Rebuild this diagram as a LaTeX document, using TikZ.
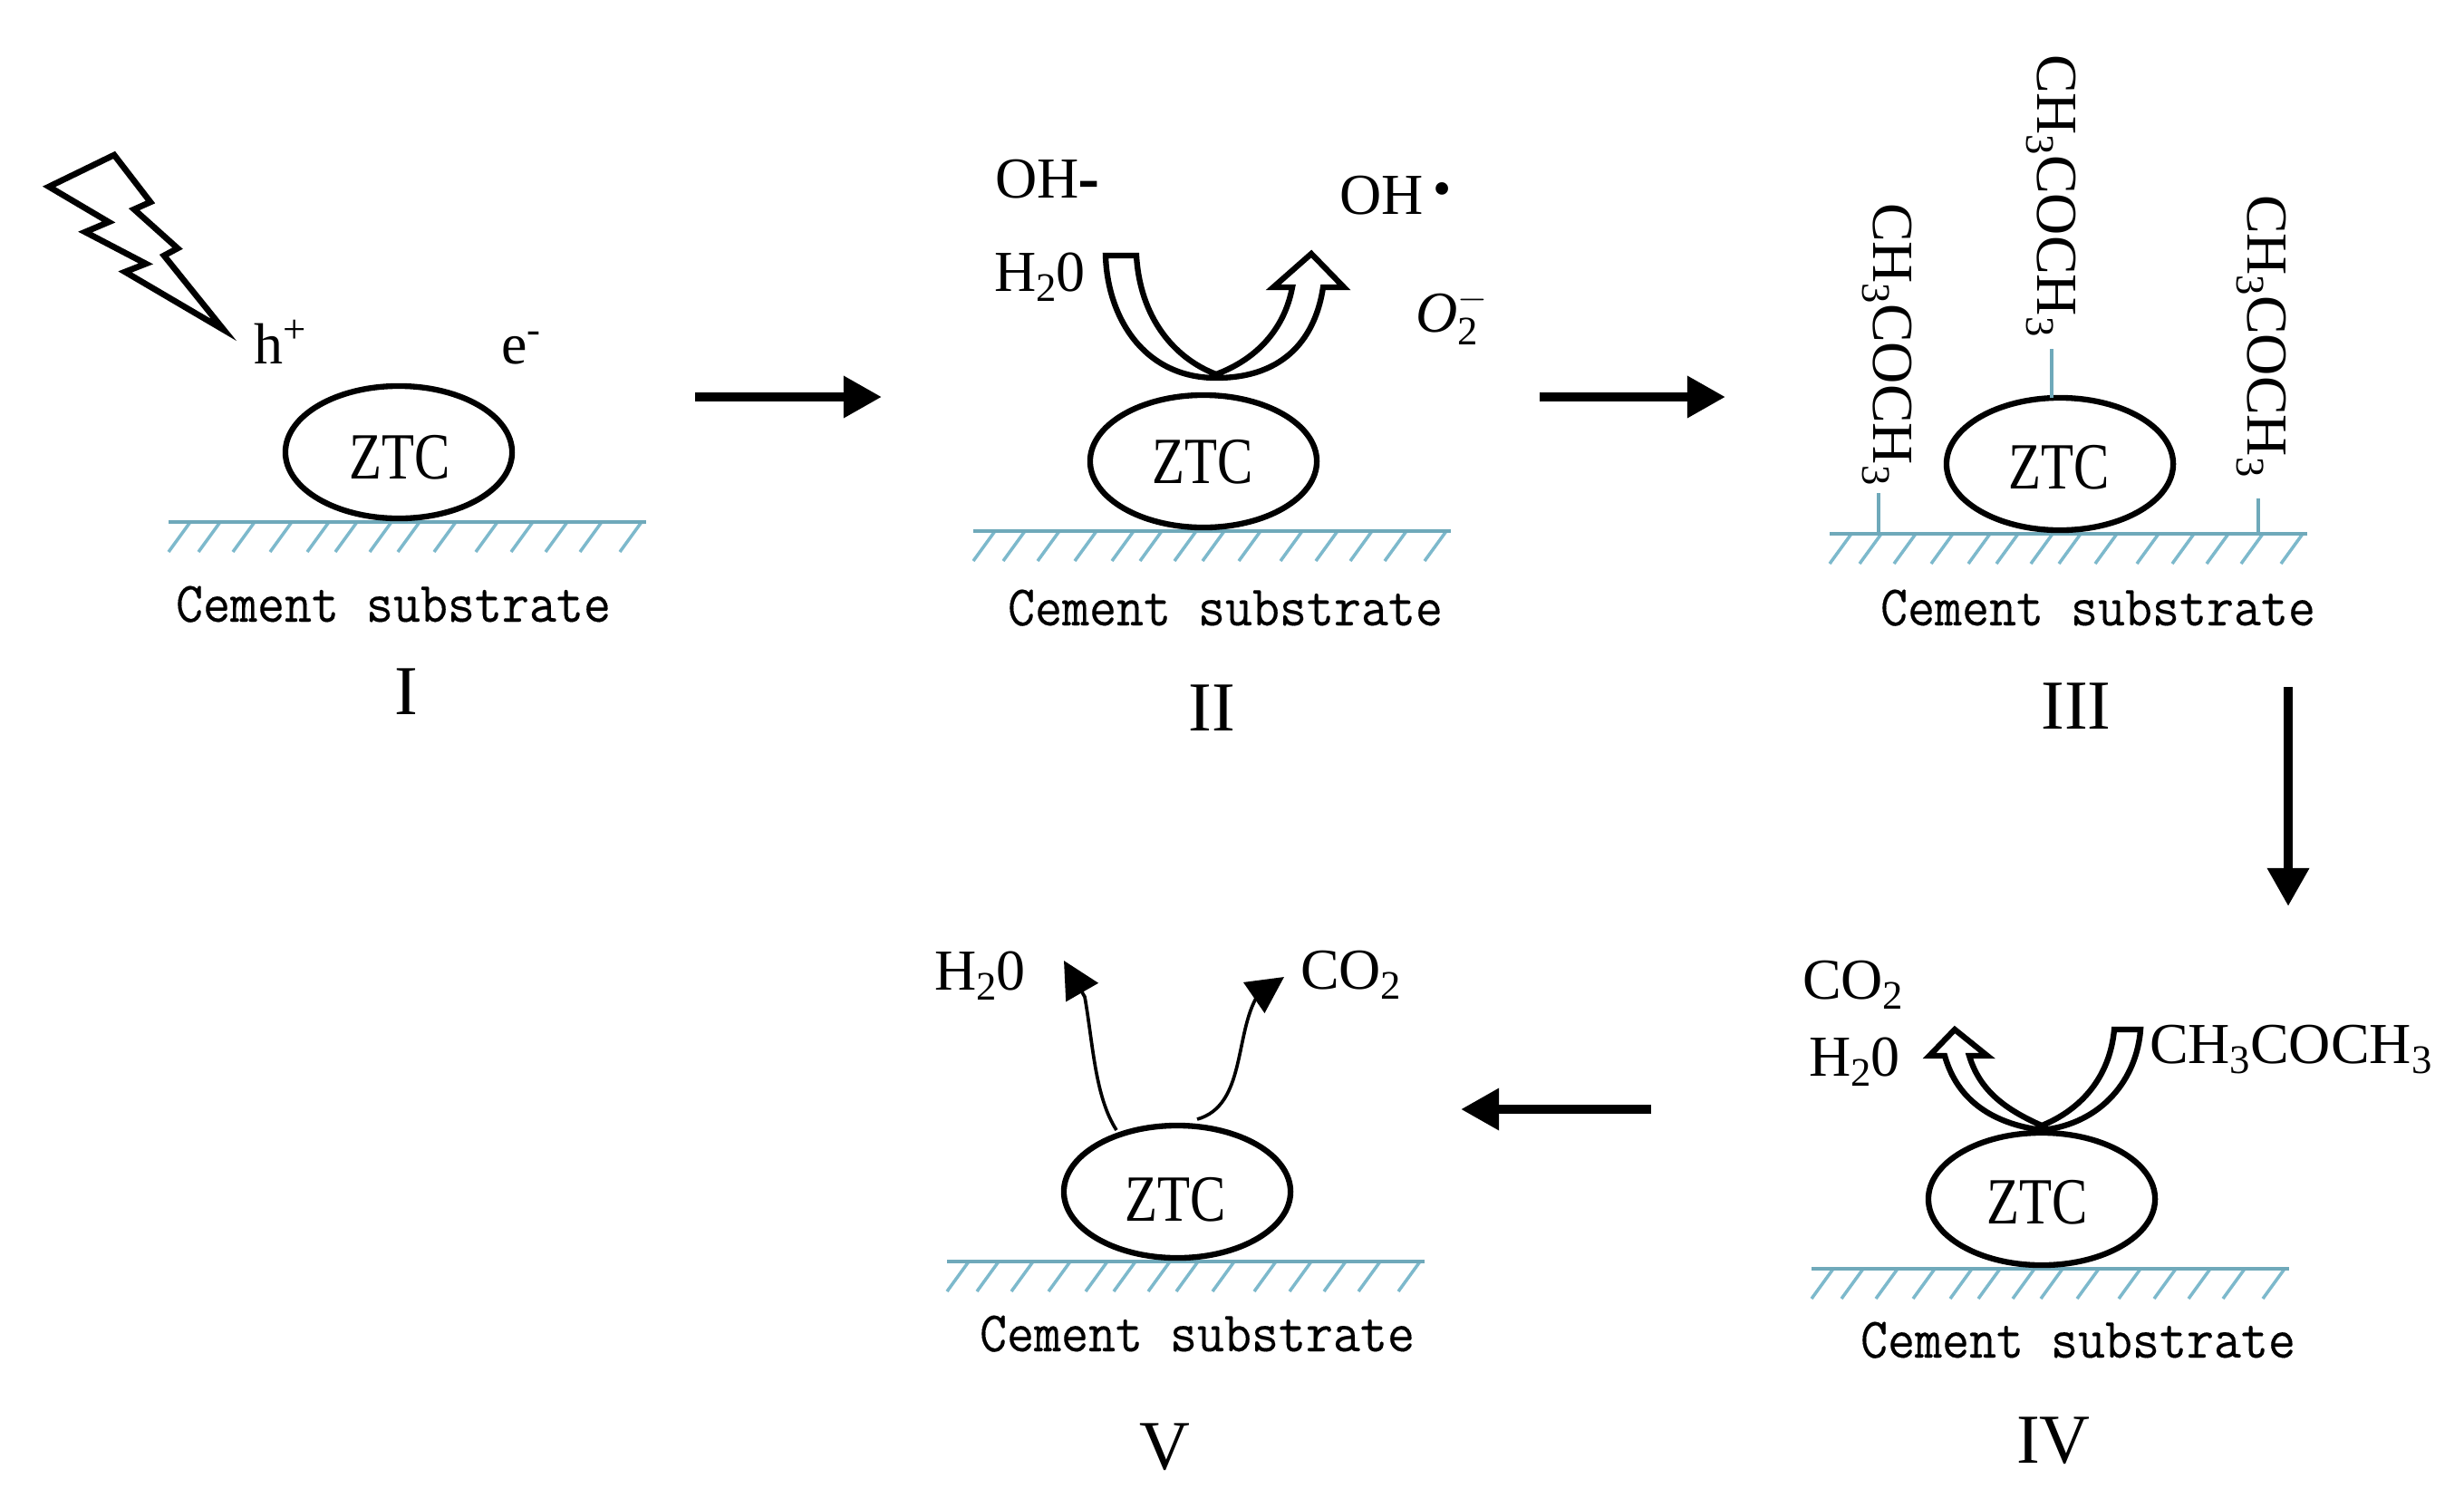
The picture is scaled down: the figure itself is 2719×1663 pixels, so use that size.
\documentclass[tikz,border=0pt]{standalone}
\usepackage{fontspec}
\setmainfont{Liberation Serif}
\newfontfamily\cemfont[FakeBold=0.25]{Latin Modern Mono}
\usetikzlibrary{arrows.meta,shapes.geometric,calc}
\definecolor{groundcol}{HTML}{6FA9BA}
\definecolor{hatchcol}{HTML}{7DB9CC}
\newcommand{\chemtxt}{\fontsize{18.2}{22}\selectfont}
\newcommand{\sbs}[1]{\raisebox{-3.4pt}{\fontsize{12.7}{14}\selectfont #1}}
\newcommand{\acetone}{CH\sbs{3}COCH\sbs{3}}
\newcommand{\water}{H\sbs{2}0}
\newcommand{\carbon}{CO\sbs{2}}
\tikzset{
  chem/.style={inner sep=0pt,outer sep=0pt,anchor=base west,font=\chemtxt},
  tag/.style={inner sep=0pt,outer sep=0pt,anchor=base,font=\fontsize{22}{26}\selectfont},
  cement/.style={inner sep=0pt,outer sep=0pt,anchor=base},
  ztcball/.style={ellipse,draw=black,line width=1.8pt,minimum width=2.5cm,minimum height=1.46cm,inner sep=0pt,outer sep=0pt},
  ztctext/.style={inner sep=0pt,outer sep=0pt},
  groundline/.style={draw=groundcol,line width=1pt},
  hatchline/.style={draw=hatchcol,line width=1pt},
  linker/.style={draw=groundcol,line width=1pt},
  mainarrow/.style={line width=2.9pt,-{Triangle[length=12pt,width=12.5pt]}},
  thinarrow/.style={line width=1.05pt,-{Triangle[length=11.5pt,width=11.5pt]}},
  hollow/.style={draw=black,fill=white,line width=1.8pt,miter limit=4,line join=miter}
}
% name, ball x, ball y, substrate text x, substrate text baseline y, ZTC x, ZTC y
\newcommand{\zpanel}[7]{%
  \foreach \o in {0,33,71,112,153,184,222,253,293,339,378,416,454,498}
    \draw[hatchline] ({#2-254+\o},{#3+110}) -- ++(24,-33);
  \draw[groundline] ({#2-254},{#3+77}) -- ({#2+273},{#3+77});
  \node[ztcball] (#1) at (#2,#3) {};
  \node[ztctext] (#1t) at (#6,#7) {\fontsize{20.7}{24}\selectfont\scalebox{.81}[1]{ZTC}};
  \node[cement] (#1s) at (#4,#5) {\scalebox{.92}[1]{\fontsize{18}{21}\selectfont\cemfont Cement substrate}};
}
\begin{document}
\begin{tikzpicture}[x=0.01cm,y=-0.01cm]
\useasboundingbox[fill=white] (0,0) rectangle (2719,1663);

% ---- Panels
\zpanel{zA}{440}{499}{434}{686}{441}{505}
\zpanel{zB}{1328}{509}{1352}{690}{1327}{510}
\zpanel{zC}{2273}{512}{2315}{690}{2272}{516}
\zpanel{zD}{2253}{1323}{2293}{1498}{2248}{1327}
\zpanel{zE}{1299}{1315}{1321}{1491}{1297}{1324}

% ---- Roman numerals
\node[tag] (tA) at (448,788) {I};
\node[tag] (tB) at (1337,806) {II};
\node[tag] (tC) at (2291,804) {III};
\node[tag] (tD) at (2266,1614) {IV};
\node[tag] (tE) at (1285,1621) {V};

% ---- Panel I
\draw[draw=black,line width=1.9pt,line join=miter,miter limit=10]
  (126,171) -- (54,206) -- (120,245) -- (94,256) -- (161,291) -- (138,300) -- (247,364)
  -- (181,282) -- (196,274) -- (148,231) -- (166,223) -- cycle;
\node[chem] (hp) at (280,401) {h\textsuperscript{+}};
\node[chem] (em) at (553,401) {e\textsuperscript{-}};

% ---- Panel II
\node[chem] (oha) at (1098,218) {OH{\addfontfeature{FakeBold=2.5}-}};
\node[chem] (ohb) at (1478,236) {OH\,\raisebox{2.5pt}{\scalebox{.9}{\textbullet}}};
\node[chem] (wa) at (1097,321) {\water};
\node[chem] (ox) at (1562,366) {\textit{O}$_{\mbox{\fontsize{12.7}{14}\selectfont 2}}^{-}$};
\path[hollow] (1220,282) .. controls (1222,350) and (1262,417) .. (1342,417)
  .. controls (1420,417) and (1452,370) .. (1460,317)
  -- (1483,317) -- (1447,280) -- (1405,317) -- (1426,317)
  .. controls (1418,360) and (1390,395) .. (1342,413)
  .. controls (1295,395) and (1258,350) .. (1254,282) -- cycle;

% ---- Panel III
\node[chem,rotate=-90] (chL) at (2067,224) {\acetone};
\node[chem,rotate=-90] (chM) at (2248,60) {\acetone};
\node[chem,rotate=-90] (chR) at (2480,215) {\acetone};
\coordinate (lkL) at (2073,544);
\coordinate (lkM) at (2264,385);
\coordinate (lkR) at (2492,550);
\draw[linker] (lkL) -- ++(0,47);
\draw[linker] (lkM) -- (lkM |- zC.north);
\draw[linker] (lkR) -- ++(0,41);

% ---- Panel IV
\node[chem] (cb) at (1989,1102) {\carbon};
\node[chem] (wb) at (1996,1187) {\water};
\node[chem] (ac) at (2372,1173) {\acetone};
\path[hollow] (2362,1136) .. controls (2358,1190) and (2320,1240) .. (2253,1247)
  .. controls (2200,1240) and (2160,1215) .. (2146,1165)
  -- (2129,1165) -- (2157,1136) -- (2193,1165) -- (2173,1165)
  .. controls (2185,1205) and (2215,1225) .. (2253,1242)
  .. controls (2295,1225) and (2328,1190) .. (2333,1136) -- cycle;

% ---- Panel V
\node[chem] (wc) at (1031,1092) {\water};
\node[chem] (cc) at (1435,1091) {\carbon};
\coordinate (vLs) at (1232,1247);
\coordinate (vLe) at (1174,1060);
\coordinate (vRs) at (1321,1235);
\coordinate (vRe) at (1417,1078);
\draw[thinarrow] (vLs) .. controls (1208,1210) and (1206,1150) .. (1197,1100) -- (vLe);
\draw[thinarrow] (vRs) .. controls (1375,1220) and (1362,1140) .. (1388,1098) -- (vRe);

% ---- Main process arrows
\coordinate (a1s) at (767,438);  \coordinate (a1e) at (973,438);
\coordinate (a2s) at (1699,438); \coordinate (a2e) at (1904,438);
\coordinate (a3s) at (2525,758); \coordinate (a3e) at (2525,1000);
\coordinate (a4s) at (1822,1224);\coordinate (a4e) at (1612,1224);
\draw[mainarrow] (a1s) -- (a1e);
\draw[mainarrow] (a2s) -- (a2e);
\draw[mainarrow] (a3s) -- (a3e);
\draw[mainarrow] (a4s) -- (a4e);
\end{tikzpicture}
\end{document}
